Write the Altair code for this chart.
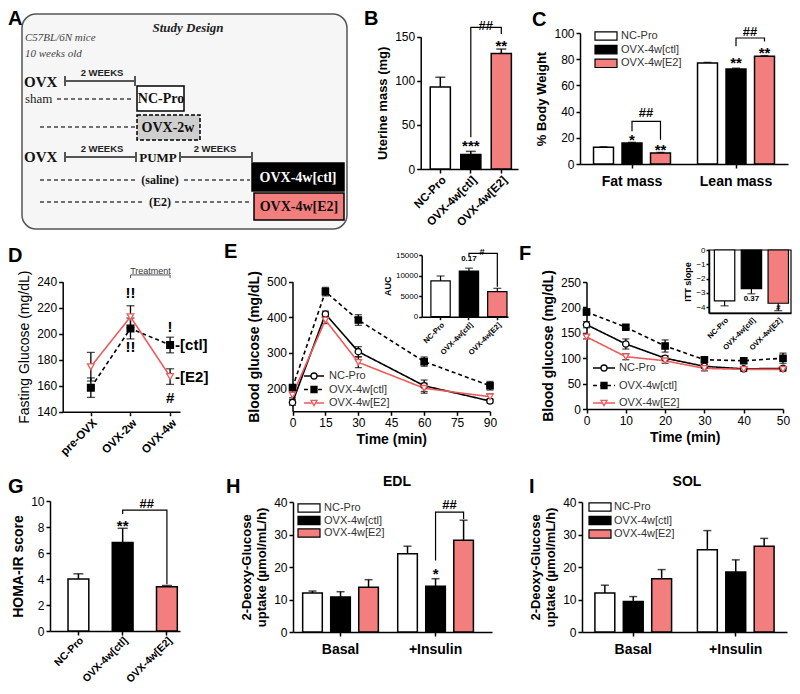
import altair as alt
import pandas as pd

# ====================== DATA ======================
GROUPS = ["NC-Pro", "OVX-4w[ctl]", "OVX-4w[E2]"]
PARTS = ["Fat mass", "Lean mass"]
STATES = ["Basal", "+Insulin"]
FG_TIMES = ["pre-OVX", "OVX-2w", "OVX-4w"]

# B uterine mass (mg): mean, SEM
uterine_mass = [93, 16.5, 131]
uterine_sem = [11, 3.5, 5]
# C body composition (% body weight)
fat_pct = [12.7, 16.0, 8.4]
fat_sem = [0.4, 0.5, 0.4]
lean_pct = [77.1, 72.5, 82.2]
lean_sem = [0.4, 0.6, 0.5]
# D fasting glucose (mg/dL)
fg_ctl = [158.5, 204.0, 191.3]
fg_ctl_sem = [7.5, 8.0, 6.0]
fg_e2 = [174.6, 213.0, 167.0]
fg_e2_sem = [11.0, 8.5, 6.0]
# E glucose tolerance test (mg/dL)
gtt_min = [0, 15, 30, 60, 90]
gtt_nc = [160, 409, 303, 207, 164]
gtt_nc_sem = [8, 8, 14, 16, 6]
gtt_ctl = [202, 472, 392, 275, 207]
gtt_ctl_sem = [8, 12, 15, 13, 12]
gtt_e2 = [181, 392, 273, 200, 176]
gtt_e2_sem = [8, 10, 15, 14, 8]
gtt_auc = [8700, 11100, 6100]
gtt_auc_sem = [1200, 700, 800]
# F insulin tolerance test (mg/dL)
itt_min = [0, 10, 20, 30, 40, 50]
itt_nc = [166, 128, 100, 84, 79, 80]
itt_nc_sem = [6, 10, 5, 4, 4, 4]
itt_ctl = [191, 161, 124, 97, 95, 100]
itt_ctl_sem = [6, 5, 12, 5, 5, 10]
itt_e2 = [142, 103, 95, 80, 78, 78]
itt_e2_sem = [4, 6, 5, 5, 4, 4]
itt_slope = [-3.55, -2.7, -3.72]
itt_slope_sem = [0.35, 0.36, 0.52]
# G HOMA-IR
homa = [4.0, 6.8, 3.4]
homa_sem = [0.4, 1.1, 0.1]
# H EDL 2-DG uptake
edl_basal = [12.0, 10.8, 13.8]
edl_basal_sem = [0.6, 1.6, 2.3]
edl_insulin = [24.1, 14.1, 28.2]
edl_insulin_sem = [2.3, 2.3, 6.2]
# I SOL 2-DG uptake
sol_basal = [12.0, 9.4, 16.4]
sol_basal_sem = [2.4, 1.5, 2.8]
sol_insulin = [25.3, 18.5, 26.4]
sol_insulin_sem = [5.9, 3.7, 2.4]

# significance annotations (category, [series], y, text) and brackets
sig_B = [("OVX-4w[ctl]", 31, "***"), ("OVX-4w[E2]", 144, "**")]
brk_B = [(1, "OVX-4w[ctl]", 36), (1, "OVX-4w[ctl]", 160.5), (1, "OVX-4w[E2]", 160.5), (1, "OVX-4w[E2]", 153)]
hash_B = [("OVX-4w[ctl]", 162, "##")]

sig_C = [("Fat mass", "OVX-4w[ctl]", 21, "*"), ("Fat mass", "OVX-4w[E2]", 14, "**"),
         ("Lean mass", "OVX-4w[ctl]", 80, "**"), ("Lean mass", "OVX-4w[E2]", 88, "**")]
brk_C = [(1, "Fat mass", "OVX-4w[ctl]", 25), (1, "Fat mass", "OVX-4w[ctl]", 32.6),
         (1, "Fat mass", "OVX-4w[E2]", 32.6), (1, "Fat mass", "OVX-4w[E2]", 18.6),
         (2, "Lean mass", "OVX-4w[ctl]", 89.8), (2, "Lean mass", "OVX-4w[ctl]", 96.2),
         (2, "Lean mass", "OVX-4w[E2]", 96.2), (2, "Lean mass", "OVX-4w[E2]", 93.6)]
hash_C = [("Fat mass", "OVX-4w[ctl]", 39, "##"), ("Lean mass", "OVX-4w[ctl]", 100.5, "##")]

sig_D = [("OVX-2w", 231, "!!"), ("OVX-2w", 190, "!!"), ("OVX-4w", 205.4, "!"), ("OVX-4w", 150.5, "#")]
brk_D = [(1, "OVX-2w", 242.8), (1, "OVX-2w", 245.2), (1, "OVX-4w", 245.2), (1, "OVX-4w", 242.8)]
end_D = [("OVX-4w", 191.3, "-[ctl]"), ("OVX-4w", 167.0, "-[E2]")]

sig_Ei = [("OVX-4w[ctl]", 12700, "0.17")]
brk_Ei = [(1, "OVX-4w[ctl]", 14600), (1, "OVX-4w[ctl]", 15400), (1, "OVX-4w[E2]", 15400), (1, "OVX-4w[E2]", 7300)]
hash_Ei = [("OVX-4w[ctl]", 15700, "#")]

sig_Fi = [("OVX-4w[ctl]", -3.4, "0.37"), ("OVX-4w[E2]", -4.05, "#")]

sig_G = [("OVX-4w[ctl]", 8.4, "**")]
brk_G = [(1, "OVX-4w[ctl]", 9.0), (1, "OVX-4w[ctl]", 9.3), (1, "OVX-4w[E2]", 9.3), (1, "OVX-4w[E2]", 3.6)]
hash_G = [("OVX-4w[ctl]", 9.8, "##")]

sig_H = [("+Insulin", "OVX-4w[ctl]", 19.2, "*")]
brk_H = [(1, "+Insulin", "OVX-4w[ctl]", 22), (1, "+Insulin", "OVX-4w[ctl]", 36.9),
         (1, "+Insulin", "OVX-4w[E2]", 36.9), (1, "+Insulin", "OVX-4w[E2]", 34.8)]
hash_H = [("+Insulin", "OVX-4w[ctl]", 39, "##")]

# ====================== STYLE / LAYOUT (page pixels) ======================
OFF = 8
W, H = 784, 678
FONT = "Liberation Sans"
SERIF = "Liberation Serif"
PINK = "#f27e7e"
RED = "#ef5a5a"


def px(v):
    return v - OFF


def band(domain, a, b, pi, po, al=0.5):
    return alt.Scale(type="band", domain=domain, range=[px(a), px(b)],
                     paddingInner=pi, paddingOuter=po, align=al)


def lin(domain, a, b):
    z = min(domain) <= 0 <= max(domain)
    return alt.Scale(type="linear", domain=domain, range=[px(a), px(b)], nice=False, zero=z)


def xaxis(y_page, **kw):
    return alt.Axis(orient="bottom", offset=px(y_page) - H, **kw)


def yaxis(x_page, **kw):
    return alt.Axis(orient="left", offset=-px(x_page), **kw)


FILL_BAR = alt.Fill("g:N", scale=alt.Scale(domain=GROUPS, range=["white", "black", PINK]), legend=None)


def simple_bars(vals, sems, xs, xa, ys, ya, sig=(), brk=(), hashes=(), cap=10, sw=1.5,
                sig_size=15, sig_dy=4, hash_size=13, hash_dx=15):
    d = pd.DataFrame({"g": GROUPS, "m": vals, "s": sems})
    d["e"] = [m + (s if m >= 0 else -s) for m, s in zip(vals, sems)]
    X = alt.X("g:N", scale=xs, axis=xa)

    def Y(f):
        return alt.Y(f"{f}:Q", scale=ys, axis=ya)

    L = [
        alt.Chart(d).mark_rule(color="black", strokeWidth=sw).encode(x=X, y=Y("m"), y2="e:Q"),
        alt.Chart(d).mark_tick(orient="horizontal", size=cap, thickness=sw, color="black").encode(x=X, y=Y("e")),
        alt.Chart(d).mark_bar(stroke="black", strokeWidth=sw).encode(x=X, y=Y("m"), fill=FILL_BAR),
    ]
    if sig:
        ds = pd.DataFrame(sig, columns=["g", "y", "t"])
        L.append(alt.Chart(ds).mark_text(font=FONT, fontSize=sig_size, fontWeight="bold", baseline="middle",
                                         dy=sig_dy, color="black").encode(x=X, y=Y("y"), text="t:N"))
    if brk:
        db = pd.DataFrame(brk, columns=["id", "g", "y"])
        db["k"] = range(len(db))
        L.append(alt.Chart(db).mark_line(color="black", strokeWidth=1.2).encode(
            x=X, y=Y("y"), detail="id:N", order="k:Q"))
    if hashes:
        dh = pd.DataFrame(hashes, columns=["g", "y", "t"])
        L.append(alt.Chart(dh).mark_text(font=FONT, fontSize=hash_size, fontWeight="bold", baseline="middle",
                                         dx=hash_dx, color="black").encode(x=X, y=Y("y"), text="t:N"))
    return alt.layer(*L)


def grouped_bars(parts, means, sems, xs, xa, xos, ys, ya, sig=(), brk=(), hashes=(), cap=8, sw=1.5):
    rows = []
    for p, ms, ss in zip(parts, means, sems):
        for g, m, s in zip(GROUPS, ms, ss):
            rows.append({"p": p, "g": g, "m": m, "e": m + s})
    d = pd.DataFrame(rows)
    X = alt.X("p:N", scale=xs, axis=xa)
    XO = alt.XOffset("g:N", scale=xos)

    def Y(f):
        return alt.Y(f"{f}:Q", scale=ys, axis=ya)

    L = [
        alt.Chart(d).mark_rule(color="black", strokeWidth=sw).encode(x=X, xOffset=XO, y=Y("m"), y2="e:Q"),
        alt.Chart(d).mark_tick(orient="horizontal", size=cap, thickness=sw, color="black").encode(
            x=X, xOffset=XO, y=Y("e")),
        alt.Chart(d).mark_bar(stroke="black", strokeWidth=sw).encode(x=X, xOffset=XO, y=Y("m"), fill=FILL_BAR),
    ]
    if sig:
        ds = pd.DataFrame(sig, columns=["p", "g", "y", "t"])
        L.append(alt.Chart(ds).mark_text(font=FONT, fontSize=15, fontWeight="bold", baseline="middle", dy=4,
                                         color="black").encode(x=X, xOffset=XO, y=Y("y"), text="t:N"))
    if brk:
        db = pd.DataFrame(brk, columns=["id", "p", "g", "y"])
        db["k"] = range(len(db))
        L.append(alt.Chart(db).mark_line(color="black", strokeWidth=1.2).encode(
            x=X, xOffset=XO, y=Y("y"), detail="id:N", order="k:Q"))
    if hashes:
        dh = pd.DataFrame(hashes, columns=["p", "g", "y", "t"])
        L.append(alt.Chart(dh).mark_text(font=FONT, fontSize=13, fontWeight="bold", baseline="middle", dx=14,
                                         color="black").encode(x=X, xOffset=XO, y=Y("y"), text="t:N"))
    return alt.layer(*L)


def line_panel(groups, xfield_type, times, vals, sems, xs, xa, ys, ya, colors, dashes, shapes, fills,
               cap=7, psize=40, sw=1.3):
    rows = []
    for g, vv, ss in zip(groups, vals, sems):
        for t, v, s in zip(times, vv, ss):
            rows.append({"t": t, "g": g, "m": v, "lo": v - s, "hi": v + s})
    d = pd.DataFrame(rows)
    caps = d.melt(id_vars=["t", "g"], value_vars=["lo", "hi"], value_name="c")
    X = alt.X(f"t:{xfield_type}", scale=xs, axis=xa)

    def Y(f):
        return alt.Y(f"{f}:Q", scale=ys, axis=ya)

    stroke = alt.Stroke("g:N", scale=alt.Scale(domain=groups, range=colors), legend=None)
    dash = alt.StrokeDash("g:N", scale=alt.Scale(domain=groups, range=dashes), legend=None)
    return [
        alt.Chart(d).mark_rule(color="black", strokeWidth=sw).encode(x=X, y=Y("lo"), y2="hi:Q"),
        alt.Chart(caps).mark_tick(orient="horizontal", size=cap, thickness=sw, color="black").encode(x=X, y=Y("c")),
        alt.Chart(d).mark_line(strokeWidth=1.6).encode(x=X, y=Y("m"), stroke=stroke, strokeDash=dash, detail="g:N"),
        alt.Chart(d).mark_point(filled=True, size=psize, strokeWidth=1.3, opacity=1).encode(
            x=X, y=Y("m"),
            shape=alt.Shape("g:N", scale=alt.Scale(domain=groups, range=shapes), legend=None),
            fill=alt.Fill("g:N", scale=alt.Scale(domain=groups, range=fills), legend=None),
            stroke=stroke),
    ]


def line_legend(xl0, xl1, xt, y0, y1):
    d = pd.DataFrame({"g": GROUPS})
    Yl = alt.Y("g:N", scale=alt.Scale(type="point", domain=GROUPS, range=[px(y0), px(y1)], padding=0), axis=None)
    stroke = alt.Stroke("g:N", scale=alt.Scale(domain=GROUPS, range=["black", "black", RED]), legend=None)
    return alt.layer(
        alt.Chart(d).mark_rule(strokeWidth=1.6).encode(
            x=alt.value(px(xl0)), x2=alt.value(px(xl1)), y=Yl, stroke=stroke,
            strokeDash=alt.StrokeDash("g:N", scale=alt.Scale(domain=GROUPS, range=[[1, 0], [4, 3], [1, 0]]),
                                      legend=None)),
        alt.Chart(d).mark_point(filled=True, size=36, strokeWidth=1.3, opacity=1).encode(
            x=alt.value(px((xl0 + xl1) / 2)), y=Yl, stroke=stroke,
            shape=alt.Shape("g:N", scale=alt.Scale(domain=GROUPS, range=["circle", "square", "triangle-down"]),
                            legend=None),
            fill=alt.Fill("g:N", scale=alt.Scale(domain=GROUPS, range=["white", "black", "white"]), legend=None)),
        alt.Chart(d).mark_text(font=FONT, fontSize=11, align="left", baseline="middle", color="#333").encode(
            x=alt.value(px(xt)), y=Yl, text="g:N"),
    )


def bar_legend(xc, wdt, xt, y0, y1):
    d = pd.DataFrame({"g": GROUPS})
    Yl = alt.Y("g:N", scale=alt.Scale(type="point", domain=GROUPS, range=[px(y0), px(y1)], padding=0), axis=None)
    return alt.layer(
        alt.Chart(d).mark_point(shape="M-1,-0.38H1V0.38H-1Z", size=wdt * wdt, filled=True, stroke="black",
                                strokeWidth=1.2, opacity=1).encode(x=alt.value(px(xc)), y=Yl, fill=FILL_BAR),
        alt.Chart(d).mark_text(font=FONT, fontSize=11, align="left", baseline="middle", color="#333").encode(
            x=alt.value(px(xt)), y=Yl, text="g:N"),
    )


def label(text, x, y, size=20, weight="bold", style="normal", color="black", align="left",
          baseline="alphabetic", font=FONT):
    return alt.Chart(pd.DataFrame({"t": [text]})).mark_text(
        font=font, fontSize=size, fontWeight=weight, fontStyle=style, color=color, align=align,
        baseline=baseline).encode(x=alt.value(px(x)), y=alt.value(px(y)), text="t:N")


def one():
    return alt.Chart(pd.DataFrame({"k": [0]}))


layers = []

# ---------------- A: study design diagram ----------------
layers.append(one().mark_rect(cornerRadius=14, fill="#f6f6f6", stroke="#555", strokeWidth=1.5).encode(
    x=alt.value(px(22)), x2=alt.value(px(347)), y=alt.value(px(14)), y2=alt.value(px(229))))
A_boxes = [(137, 184, 86, 111, "white", None), (137, 200, 115, 140, "#cfcfcf", [4, 2]),
           (252, 344, 163, 191, "black", None), (254, 344, 193, 220, PINK, None)]
for x1, x2, y1, y2, f, dsh in A_boxes:
    kw = {"strokeDash": dsh} if dsh else {}
    layers.append(one().mark_rect(fill=f, stroke="black", strokeWidth=1.5, **kw).encode(
        x=alt.value(px(x1)), x2=alt.value(px(x2)), y=alt.value(px(y1)), y2=alt.value(px(y2))))
for x1, x2, y in [(65, 135, 81), (65, 136, 157), (180, 252, 157)]:
    layers.append(one().mark_rule(color="#555", strokeWidth=2).encode(
        x=alt.value(px(x1)), x2=alt.value(px(x2)), y=alt.value(px(y))))
for x, y in [(65, 81), (135, 81), (65, 157), (136, 157), (180, 157), (252, 157)]:
    layers.append(one().mark_rule(color="#555", strokeWidth=2).encode(
        x=alt.value(px(x)), y=alt.value(px(y - 5)), y2=alt.value(px(y + 5))))
for x1, x2, y in [(57, 133, 99), (40, 135, 127), (40, 136, 180), (184, 250, 180), (40, 145, 202), (175, 252, 202)]:
    layers.append(one().mark_rule(color="#444", strokeWidth=1.5, strokeDash=[4, 3]).encode(
        x=alt.value(px(x1)), x2=alt.value(px(x2)), y=alt.value(px(y))))
A_texts = [
    ("Study Design", 188, 28, 13, "bold", "italic", "#222", "center", SERIF),
    ("C57BL/6N mice", 25, 38, 11, "normal", "italic", "#444", "left", SERIF),
    ("10 weeks old", 25, 54, 11, "normal", "italic", "#444", "left", SERIF),
    ("OVX", 24, 82, 15, "bold", "normal", "#111", "left", SERIF),
    ("OVX", 24, 157, 15, "bold", "normal", "#111", "left", SERIF),
    ("2 WEEKS", 102, 73, 9.5, "bold", "normal", "#222", "center", FONT),
    ("2 WEEKS", 102, 149, 9.5, "bold", "normal", "#222", "center", FONT),
    ("2 WEEKS", 215, 149, 9.5, "bold", "normal", "#222", "center", FONT),
    ("sham", 25, 99, 13, "normal", "normal", "#222", "left", SERIF),
    ("NC-Pro", 161, 98.5, 14, "bold", "normal", "#111", "center", SERIF),
    ("OVX-2w", 168, 128, 14, "bold", "normal", "#111", "center", SERIF),
    ("PUMP", 158, 157.5, 13, "bold", "normal", "#111", "center", SERIF),
    ("(saline)", 160, 180, 12, "bold", "normal", "#111", "center", SERIF),
    ("(E2)", 160, 202, 12, "bold", "normal", "#111", "center", SERIF),
    ("OVX-4w[ctl]", 298, 177.5, 14, "bold", "normal", "white", "center", SERIF),
    ("OVX-4w[E2]", 299, 207, 14, "bold", "normal", "#111", "center", SERIF),
]
for t, x, y, s, w, st, c, al, f in A_texts:
    layers.append(label(t, x, y, size=s, weight=w, style=st, color=c, align=al, baseline="middle", font=f))

# ---------------- B: uterine mass ----------------
layers.append(simple_bars(
    uterine_mass, uterine_sem,
    band(GROUPS, 420.7, 518, 0.34, 0.265, 0.59),
    xaxis(169, title=None, labelAngle=-45, labelFontWeight="bold", labelFontSize=11.5, labelPadding=1),
    lin([0, 150], 169, 36.7),
    yaxis(420.7, title="Uterine mass (mg)", values=[0, 50, 100, 150]),
    sig_B, brk_B, hash_B))

# ---------------- C: body composition ----------------
layers.append(grouped_bars(
    PARTS, [fat_pct, lean_pct], [fat_sem, lean_sem],
    band(PARTS, 580, 788, 0, 0, 0.5),
    xaxis(164, title=None, labelAngle=0, labelFontSize=14, labelFontWeight="bold", labelPadding=6),
    alt.Scale(domain=GROUPS, paddingInner=0.3, paddingOuter=0.475),
    lin([0, 100], 164, 33),
    yaxis(580, title="% Body Weight", values=[0, 20, 40, 60, 80, 100]),
    sig_C, brk_C, hash_C))
layers.append(bar_legend(606, 22, 621, 36, 63.3))

# ---------------- D: fasting glucose ----------------
xsD = alt.Scale(type="point", domain=FG_TIMES, range=[px(62.7), px(180)], padding=0.48, align=0.74)
xaD = xaxis(411.7, title=None, labelAngle=-45, labelFontWeight="bold", labelFontSize=11.5, labelPadding=1)
ysD = lin([140, 240], 411.7, 281.7)
yaD = yaxis(62.7, title="Fasting Glucose (mg/dL)", titleFontWeight="normal", titleFontSize=14,
            values=[140, 160, 180, 200, 220, 240])
XD = alt.X("t:N", scale=xsD, axis=xaD)
D_layers = line_panel(GROUPS[1:], "N", FG_TIMES, [fg_ctl, fg_e2], [fg_ctl_sem, fg_e2_sem],
                      xsD, xaD, ysD, yaD, ["black", RED], [[4, 3], [1, 0]], ["square", "triangle-down"],
                      ["black", "white"], cap=8, psize=45)
dsD = pd.DataFrame(sig_D, columns=["t", "y", "s"])
D_layers.append(alt.Chart(dsD).mark_text(font=FONT, fontSize=15, fontWeight="bold", baseline="middle",
                                         color="black").encode(x=XD, y=alt.Y("y:Q", scale=ysD, axis=yaD), text="s:N"))
dbD = pd.DataFrame(brk_D, columns=["id", "t", "y"])
dbD["k"] = range(len(dbD))
D_layers.append(alt.Chart(dbD).mark_line(color="#555", strokeWidth=1).encode(
    x=XD, y=alt.Y("y:Q", scale=ysD, axis=yaD), detail="id:N", order="k:Q"))
D_layers.append(alt.Chart(pd.DataFrame({"t": ["OVX-2w"], "y": [248.6], "s": ["Treatment"]})).mark_text(
    font=FONT, fontSize=9, baseline="middle", dx=20, color="#333").encode(
    x=XD, y=alt.Y("y:Q", scale=ysD, axis=yaD), text="s:N"))
deD = pd.DataFrame(end_D, columns=["t", "y", "s"])
D_layers.append(alt.Chart(deD).mark_text(font=FONT, fontSize=15, fontWeight="bold", baseline="middle",
                                         align="left", dx=5, color="black").encode(
    x=XD, y=alt.Y("y:Q", scale=ysD, axis=yaD), text="s:N"))
layers.append(alt.layer(*D_layers))

# ---------------- E: GTT ----------------
xsE = lin([0, 90], 292.5, 490)
ysE = lin([135, 500], 411.3, 281.7)
xaE = xaxis(411.3, title="Time (min)", titleFontSize=14, values=[0, 15, 30, 45, 60, 75, 90], titlePadding=4)
yaE = yaxis(292.5, title="Blood glucose (mg/dL)", titleFontSize=14, values=[200, 300, 400, 500])
layers.append(alt.layer(*line_panel(GROUPS, "Q", gtt_min, [gtt_nc, gtt_ctl, gtt_e2],
                                    [gtt_nc_sem, gtt_ctl_sem, gtt_e2_sem], xsE, xaE, ysE, yaE,
                                    ["black", "black", RED], [[1, 0], [4, 3], [1, 0]],
                                    ["circle", "square", "triangle-down"], ["white", "black", "white"])))
layers.append(line_legend(304, 324, 329, 376, 403))
layers.append(simple_bars(
    gtt_auc, gtt_auc_sem,
    band(GROUPS, 421.7, 508, 0.32, 0.18, 0.9),
    xaxis(316.7, title=None, labelAngle=-45, labelFontSize=7.5, labelFontWeight="bold", tickSize=3,
          labelPadding=1),
    lin([0, 15000], 316.7, 255),
    yaxis(421.7, title="AUC", titleFontSize=9, labelFontSize=8, values=[0, 5000, 10000, 15000], tickSize=3,
          titlePadding=3, labelPadding=1, format="d"),
    sig_Ei, brk_Ei, hash_Ei, cap=8, sw=1.2, sig_size=8, sig_dy=-5, hash_size=9, hash_dx=13))

# ---------------- F: ITT ----------------
xsF = lin([0, 50], 586.5, 783)
ysF = lin([0, 250], 409, 282)
xaF = xaxis(409, title="Time (min)", titleFontSize=14, values=[0, 10, 20, 30, 40, 50], titlePadding=4)
yaF = yaxis(586.5, title="Blood glucose (mg/dL)", titleFontSize=14, values=[0, 50, 100, 150, 200, 250])
layers.append(alt.layer(*line_panel(GROUPS, "Q", itt_min, [itt_nc, itt_ctl, itt_e2],
                                    [itt_nc_sem, itt_ctl_sem, itt_e2_sem], xsF, xaF, ysF, yaF,
                                    ["black", "black", RED], [[1, 0], [4, 3], [1, 0]],
                                    ["circle", "square", "triangle-down"], ["white", "black", "white"])))
layers.append(line_legend(593, 615, 619, 368, 403))
layers.append(one().mark_rect(fillOpacity=0, stroke="black", strokeWidth=1.2).encode(
    x=alt.value(px(709)), x2=alt.value(px(791)), y=alt.value(px(250)), y2=alt.value(px(313))))
layers.append(simple_bars(
    itt_slope, itt_slope_sem,
    band(GROUPS, 709, 791, 0.24, 0.147, 0.68),
    xaxis(313, title=None, labelAngle=-45, labelFontSize=7.5, labelFontWeight="bold", tickSize=0,
          labelPadding=3),
    lin([-4.4, 0], 313, 250),
    yaxis(709, title="ITT slope", titleFontSize=9, labelFontSize=8, values=[0, -1, -2, -3, -4], tickSize=3,
          titlePadding=3, labelPadding=1),
    sig_Fi, cap=8, sw=1.2, sig_size=8, sig_dy=0))

# ---------------- G: HOMA-IR ----------------
layers.append(simple_bars(
    homa, homa_sem,
    band(GROUPS, 50, 180, 0.53, 0.234, 0.87),
    xaxis(631, title=None, labelAngle=-45, labelFontWeight="bold", labelFontSize=10.5, labelPadding=0),
    lin([0, 10], 631, 501),
    yaxis(50, title="HOMA-IR score", titleFontSize=14, values=[0, 2, 4, 6, 8, 10]),
    sig_G, brk_G, hash_G, hash_dx=24))

# ---------------- H: EDL ----------------
layers.append(grouped_bars(
    STATES, [edl_basal, edl_insulin], [edl_basal_sem, edl_insulin_sem],
    band(STATES, 293, 492, 0, 0.047, 0),
    xaxis(632, title=None, labelAngle=0, labelFontSize=14, labelFontWeight="bold", labelPadding=6),
    alt.Scale(domain=GROUPS, paddingInner=0.3, paddingOuter=0.345),
    lin([0, 40], 632, 502),
    yaxis(293, title=["2-Deoxy-Glucose", "uptake (\u00b5mol/mL/h)"], values=[0, 10, 20, 30, 40]),
    sig_H, brk_H, hash_H))
layers.append(bar_legend(309, 22, 324, 508, 533))

# ---------------- I: SOL ----------------
layers.append(grouped_bars(
    STATES, [sol_basal, sol_insulin], [sol_basal_sem, sol_insulin_sem],
    band(STATES, 582, 787, 0, 0, 0.5),
    xaxis(632, title=None, labelAngle=0, labelFontSize=14, labelFontWeight="bold", labelPadding=6),
    alt.Scale(domain=GROUPS, paddingInner=0.3, paddingOuter=0.455),
    lin([0, 40], 632, 502),
    yaxis(582, title=["2-Deoxy-Glucose", "uptake (\u00b5mol/mL/h)"], values=[0, 10, 20, 30, 40])))
layers.append(bar_legend(600, 22, 614, 507, 534))

# ---------------- panel letters and titles ----------------
for t, x, y in [("A", 8, 9), ("B", 364, 9), ("C", 532, 10), ("D", 8, 246), ("E", 224, 242),
                ("F", 519, 244), ("G", 8, 477), ("H", 226, 477), ("I", 529, 477)]:
    layers.append(label(t, x, y, size=20, baseline="top"))
layers.append(label("EDL", 397, 482, size=14, align="center", baseline="middle"))
layers.append(label("SOL", 687, 482, size=14, align="center", baseline="middle"))

chart = alt.layer(*layers).resolve_scale(
    x="independent", y="independent", xOffset="independent", fill="independent",
    stroke="independent", shape="independent", strokeDash="independent"
).resolve_axis(x="independent", y="independent").properties(
    width=W, height=H, padding=0, autosize=alt.AutoSizeParams(type="none")
).configure_view(stroke=None).configure_axis(
    domainColor="black", domainWidth=1.5, tickColor="black", tickWidth=1.5, tickSize=4,
    labelFont=FONT, labelFontSize=12, labelColor="black", titleFont=FONT, titleFontSize=13,
    titleFontWeight="bold", titleColor="black", grid=False, labelOverlap=False, labelFlush=False,
    labelPadding=2, titlePadding=5
)

chart.save("out.html", embed_options={"renderer": "svg", "actions": False})
